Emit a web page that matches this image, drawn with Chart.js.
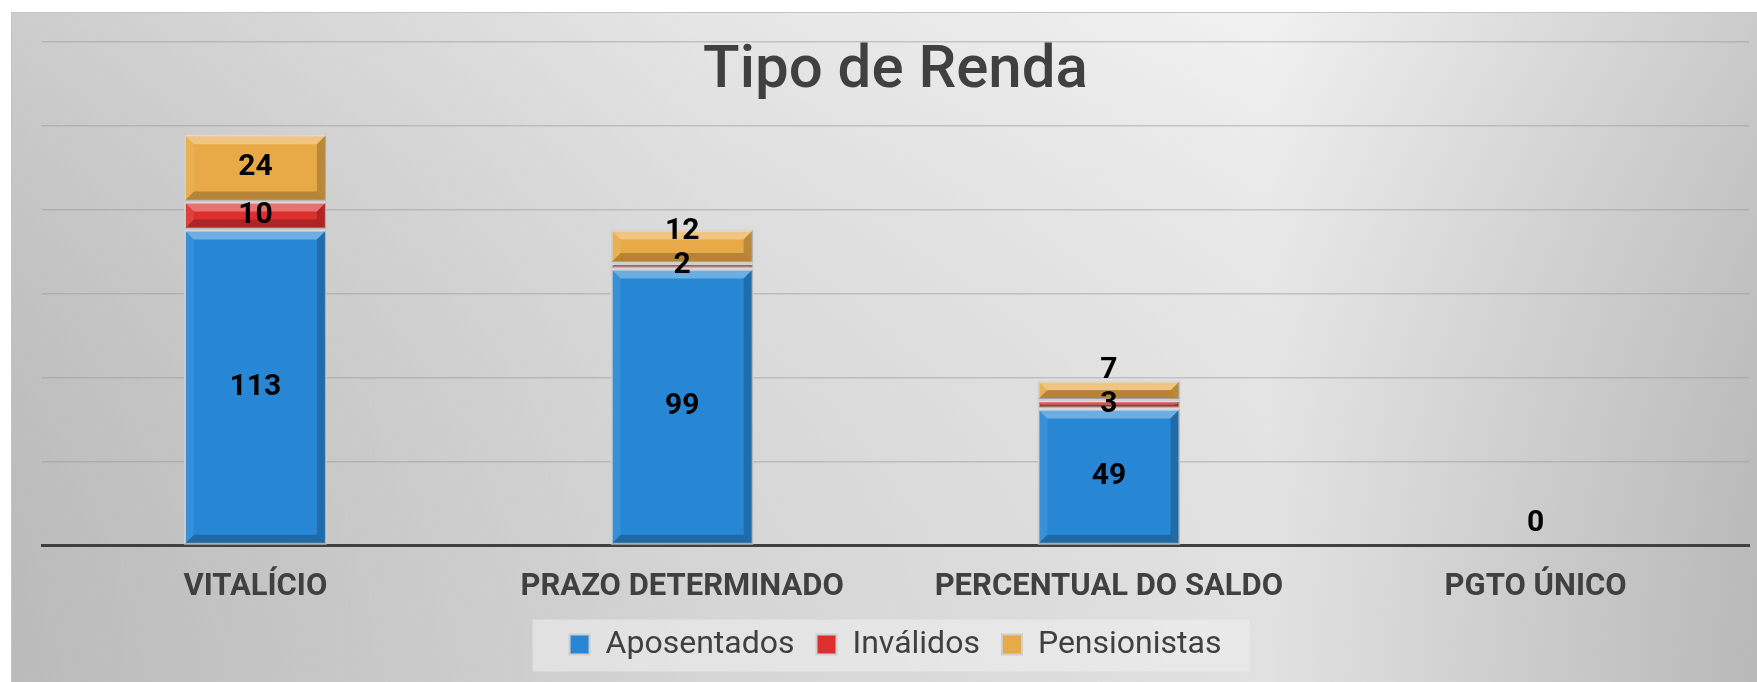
<!DOCTYPE html>
<html><head><meta charset="utf-8">
<script src="https://cdn.jsdelivr.net/npm/chart.js@4.4.1/dist/chart.umd.min.js"></script>
<style>html,body{margin:0;padding:0;background:#fff;overflow:hidden}#wrap{width:1757px;height:682px}</style>
</head><body><div id="wrap"><canvas id="c" width="1757" height="682"></canvas></div>
<script>
const categories = ['VITALÍCIO', 'PRAZO DETERMINADO', 'PERCENTUAL DO SALDO', 'PGTO ÚNICO'];
const aposentados = [113, 99, 49, 0];
const invalidos = [10, 2, 3, 0];
const pensionistas = [24, 12, 7, 0];
const seriesNames = ['Aposentados', 'Inválidos', 'Pensionistas'];
const seriesColors = ['#2787d5', '#dd2f2f', '#e8aa46'];
const yMax = 180;
const yStep = 30;
const chartTitle = 'Tipo de Renda';

const FONT = 'Roboto, "Liberation Sans", Arial, sans-serif';

const bgPlugin = {
  id: 'bg',
  beforeDraw(chart) {
    const ctx = chart.ctx, W = chart.width, H = chart.height;
    ctx.save();
    ctx.fillStyle = '#ffffff';
    ctx.fillRect(0, 0, W, H);
    const x0 = 11, y0 = 12, w = W - x0, h = H - y0;
    const g = ctx.createLinearGradient(x0, 0, W, 0);
    g.addColorStop(0, '#c6c6c6');
    g.addColorStop(0.4, '#e2e2e2');
    g.addColorStop(0.72, '#efefef');
    g.addColorStop(1, '#c4c4c4');
    ctx.fillStyle = g;
    ctx.fillRect(x0, y0, w, h);
    const gv = ctx.createLinearGradient(0, y0, 0, H);
    gv.addColorStop(0, 'rgba(255,255,255,0.12)');
    gv.addColorStop(1, 'rgba(0,0,0,0.06)');
    ctx.fillStyle = gv;
    ctx.fillRect(x0, y0, w, h);
    ctx.strokeStyle = '#c4c4c4';
    ctx.lineWidth = 1;
    ctx.beginPath();
    ctx.moveTo(x0 + 0.5, H);
    ctx.lineTo(x0 + 0.5, y0 + 0.5);
    ctx.lineTo(W, y0 + 0.5);
    ctx.stroke();
    const lg = chart.legend;
    if (lg && lg.legendHitBoxes && lg.legendHitBoxes.length) {
      const hb = lg.legendHitBoxes;
      const left = Math.min(...hb.map(b => b.left));
      const right = Math.max(...hb.map(b => b.left + b.width));
      const cy = hb[0].top + hb[0].height / 2;
      ctx.fillStyle = 'rgba(240,240,240,0.55)';
      ctx.fillRect(left - 37, cy - 25, right - left + 65, 52);
    }
    ctx.restore();
  }
};

const barDecor = {
  id: 'barDecor',
  afterDatasetsDraw(chart) {
    const ctx = chart.ctx;
    ctx.save();
    chart.data.datasets.forEach((ds, d) => {
      chart.getDatasetMeta(d).data.forEach(el => {
        const L = el.x - el.width / 2, R = el.x + el.width / 2;
        const T = Math.min(el.y, el.base), B = Math.max(el.y, el.base);
        const h = B - T;
        if (h < 1) return;
        const b = Math.min(9, h / 2, el.width / 2);
        const poly = (pts, col) => {
          ctx.beginPath();
          ctx.moveTo(pts[0][0], pts[0][1]);
          for (let k = 1; k < pts.length; k++) ctx.lineTo(pts[k][0], pts[k][1]);
          ctx.closePath();
          ctx.fillStyle = col;
          ctx.fill();
        };
        const l = L + 1, r = R - 1, t = T + 1, bt = B - 1;
        poly([[l, t], [r, t], [r - b, t + b], [l + b, t + b]], 'rgba(255,255,255,0.32)');
        poly([[l, bt], [r, bt], [r - b, bt - b], [l + b, bt - b]], 'rgba(0,0,0,0.22)');
        poly([[l, t], [l + b, t + b], [l + b, bt - b], [l, bt]], 'rgba(255,255,255,0.08)');
        poly([[r, t], [r - b, t + b], [r - b, bt - b], [r, bt]], 'rgba(0,0,0,0.2)');
      });
    });
    ctx.font = 'bold 30px ' + FONT;
    ctx.fillStyle = '#000000';
    ctx.textAlign = 'center';
    ctx.textBaseline = 'middle';
    const minGap = 34;
    categories.forEach((c, i) => {
      let prev = null;
      let zeroDone = false;
      chart.data.datasets.forEach((ds, d) => {
        const v = ds.data[i];
        if (v === null || v === undefined) return;
        const el = chart.getDatasetMeta(d).data[i];
        if (v === 0) {
          if (zeroDone) return;
          zeroDone = true;
          ctx.fillText(String(v), el.x, el.base - 22);
          return;
        }
        let cy = (el.y + el.base) / 2;
        if (prev !== null && cy > prev - minGap) cy = prev - minGap;
        ctx.fillText(String(v), el.x, cy);
        prev = cy;
      });
    });
    ctx.restore();
  },
  afterDraw(chart) {
    const ctx = chart.ctx, a = chart.chartArea;
    ctx.save();
    ctx.font = '500 60px ' + FONT;
    ctx.fillStyle = '#404040';
    ctx.textAlign = 'center';
    ctx.textBaseline = 'alphabetic';
    ctx.fillText(chartTitle, (a.left + a.right) / 2, a.top + 45);
    ctx.restore();
  }
};

const seriesData = [aposentados, invalidos, pensionistas];
const datasets = seriesNames.map((name, k) => ({
  label: name,
  data: seriesData[k],
  backgroundColor: seriesColors[k],
  borderColor: '#cfcfcf',
  borderWidth: 2,
  borderSkipped: false,
  categoryPercentage: 1.0,
  barPercentage: 0.335
}));

new Chart(document.getElementById('c'), {
  type: 'bar',
  data: { labels: categories, datasets },
  plugins: [bgPlugin, barDecor],
  options: {
    responsive: false,
    animation: false,
    layout: { padding: { left: 42, right: 8, top: 42, bottom: 11.5 } },
    plugins: {
      tooltip: { enabled: false },
      title: { display: false },
      legend: {
        display: true,
        position: 'bottom',
        labels: {
          font: { family: FONT, size: 32 },
          color: '#404040',
          boxWidth: 20,
          boxHeight: 20,
          padding: 22
        }
      }
    },
    scales: {
      x: {
        stacked: true,
        grid: { display: false, drawTicks: false },
        border: { display: true, color: '#404040', width: 3 },
        ticks: { font: { family: FONT, size: 31, weight: 'bold' }, color: '#404040', padding: 23, maxRotation: 0, autoSkip: false },
        afterFit(s) { s.height = 61; }
      },
      y: {
        stacked: true,
        min: 0,
        max: yMax,
        ticks: { display: false, stepSize: yStep },
        grid: { color: 'rgba(150,150,150,0.45)', lineWidth: 1.5, drawTicks: false },
        border: { display: false },
        afterFit(s) { s.width = 0; }
      }
    }
  }
});
</script>
</body></html>
